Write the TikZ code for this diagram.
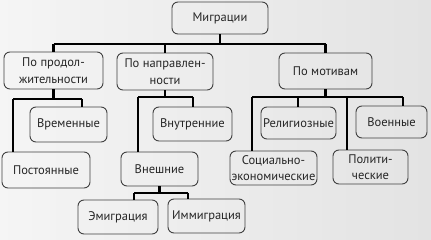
\documentclass[tikz,border=0pt]{standalone}
\usepackage{fontspec}
\setmainfont{PT Sans}
\begin{document}
\begin{tikzpicture}[x=1pt,y=-1pt,
  bx/.style={draw=black!75, line width=0.9pt, rounded corners=6pt, align=center,
    inner sep=0pt, text=black!85, font=\fontsize{12.5}{16.5}\selectfont},
  conn/.style={draw=black, line width=2.2pt}]
\useasboundingbox (0,0) rectangle (431,240);
\shade[left color=gray!8, right color=gray!22] (0,0) rectangle (431,240);
% boxes
\node[bx, minimum width=96pt, minimum height=32pt] (M) at (220,18) {Миграции};
\node[bx, minimum width=99pt, minimum height=37pt] (P1) at (53.5,70.5) {По продол-\\жительности};
\node[bx, minimum width=96pt, minimum height=37pt] (P2) at (165,71.5) {По направлен-\\ности};
\node[bx, minimum width=93pt, minimum height=36pt] (P3) at (325.5,71) {По мотивам};
\node[bx, minimum width=77pt, minimum height=35pt] (Vr) at (68.5,124.5) {Временные};
\node[bx, minimum width=88pt, minimum height=36pt] (Po) at (46,170) {Постоянные};
\node[bx, minimum width=79pt, minimum height=34pt] (Vn) at (192.5,124) {Внутренние};
\node[bx, minimum width=77pt, minimum height=34pt] (Ve) at (159.5,169) {Внешние};
\node[bx, minimum width=80pt, minimum height=34pt] (Em) at (118,217) {Эмиграция};
\node[bx, minimum width=77pt, minimum height=34pt] (Im) at (206.5,216) {Иммиграция};
\node[bx, minimum width=75pt, minimum height=32pt] (Re) at (298.5,123) {Религиозные};
\node[bx, minimum width=71pt, minimum height=32pt] (Vo) at (391.5,122) {Военные};
\node[bx, minimum width=87pt, minimum height=34pt] (So) at (273.5,168) {Социально-\\экономические};
\node[bx, minimum width=75pt, minimum height=34pt] (Pl) at (370.5,167) {Полити-\\ческие};
% bus coordinates
\coordinate (busM) at (220,44);
\coordinate (b1L) at (13,99);
\coordinate (b1R) at (82,99);
\coordinate (b2L) at (138,97);
\coordinate (b2R) at (193,97);
\coordinate (b3L) at (134,193);
\coordinate (b3R) at (188,193);
\coordinate (b4A) at (252,97);
\coordinate (b4B) at (298,97);
\coordinate (b4C) at (347,97);
\coordinate (b4D) at (403,97);
% level 1
\draw[conn] (M.south) -- (busM);
\draw[conn] (P1.north |- busM) -- (P3.north |- busM);
\draw[conn] (P1.north |- busM) -- (P1.north);
\draw[conn] (P2.north |- busM) -- (P2.north);
\draw[conn] (P3.north |- busM) -- (P3.north);
% P1 children
\draw[conn] (P1.south) -- (P1.south |- b1L);
\draw[conn] (b1L) -- (b1R);
\draw[conn] (b1L) -- (b1L |- Po.north);
\draw[conn] (b1R) -- (b1R |- Vr.north);
% P2 children
\draw[conn] (P2.south) -- (P2.south |- b2L);
\draw[conn] (b2L) -- (b2R);
\draw[conn] (b2L) -- (b2L |- Ve.north);
\draw[conn] (b2R) -- (b2R |- Vn.north);
% Ve children
\draw[conn] (Ve.south) -- (Ve.south |- b3L);
\draw[conn] (b3L) -- (b3R);
\draw[conn] (b3L) -- (b3L |- Em.north);
\draw[conn] (b3R) -- (b3R |- Im.north);
% P3 children
\draw[conn] (P3.south) -- (P3.south |- b4A);
\draw[conn] (b4A) -- (b4D);
\draw[conn] (b4A) -- (b4A |- So.north);
\draw[conn] (b4B) -- (b4B |- Re.north);
\draw[conn] (b4C) -- (b4C |- Pl.north);
\draw[conn] (b4D) -- (b4D |- Vo.north);
\end{tikzpicture}
\end{document}
